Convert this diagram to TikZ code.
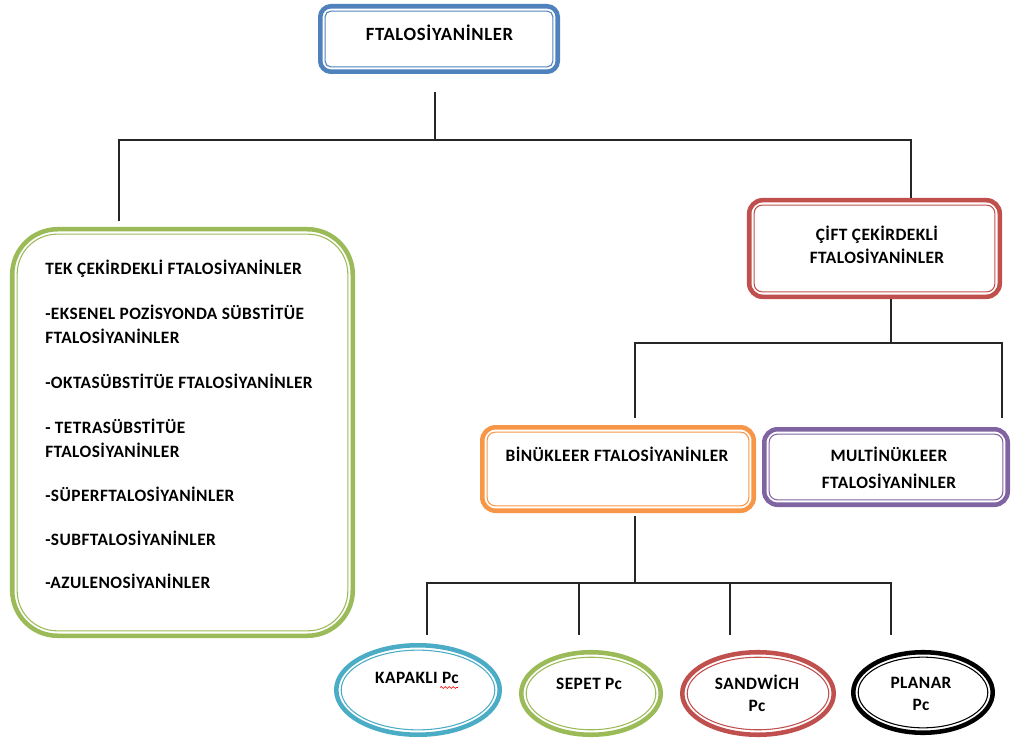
\documentclass[tikz,border=0pt]{standalone}
\usepackage{fontspec}
\setmainfont{Carlito}
\newfontfamily\boxfont[LetterSpace=2.5]{Carlito}
\newfontfamily\titlefont[LetterSpace=3.5]{Carlito}
\usetikzlibrary{shapes.geometric,calc,decorations.pathmorphing}
\definecolor{blueC}{HTML}{4F81BD}
\definecolor{greenC}{HTML}{9BBB59}
\definecolor{redC}{HTML}{C0504D}
\definecolor{orangeC}{HTML}{F79646}
\definecolor{purpleC}{HTML}{8064A2}
\definecolor{aquaC}{HTML}{4BACC6}
\begin{document}
\begin{tikzpicture}[x=0.75pt,y=-0.75pt,
  box/.style={draw=#1, line width=3.4pt, inner sep=0pt},
  oval/.style={ellipse, draw=#1, line width=3.4pt, inner sep=0pt},
  inl/.style={draw=#1, line width=0.8pt},
  lbl/.style={font=\boxfont\bfseries\fontsize{13}{15}\selectfont, inner sep=0pt, anchor=base},
  ttl/.style={font=\titlefont\bfseries\fontsize{14}{16}\selectfont, inner sep=0pt, anchor=base},
  item/.style={font=\boxfont\bfseries\fontsize{13}{15}\selectfont, inner sep=0pt, anchor=base west},
  conn/.style={line width=1pt, draw=black!85}]
\useasboundingbox (0,0) rectangle (1011,738);

% ---------- boxes ----------
\node[box=blueC, rounded corners=8pt, minimum width=178.1pt, minimum height=49.1pt] (top) at (439,39) {};
\draw[inl=blueC, rounded corners=4pt] ($(top.north west)+(5.4pt,-5.4pt)$) rectangle ($(top.south east)+(-5.4pt,5.4pt)$);
\node[ttl] (toptxt) at (439.5,41) {FTALOSİYANİNLER};

\node[box=greenC, rounded corners=34pt, minimum width=255.4pt, minimum height=304.9pt] (green) at (182.5,432.5) {};
\draw[inl=greenC, rounded corners=30pt] ($(green.north west)+(5.4pt,-5.4pt)$) rectangle ($(green.south east)+(-5.4pt,5.4pt)$);
\node[item] (g1) at (45,275) {TEK ÇEKİRDEKLİ FTALOSİYANİNLER};
\node[item] (g2) at (45,320) {-EKSENEL POZİSYONDA SÜBSTİTÜE};
\node[item] (g3) at (45,344) {FTALOSİYANİNLER};
\node[item] (g4) at (45,388) {-OKTASÜBSTİTÜE FTALOSİYANİNLER};
\node[item] (g5) at (45,433) {- TETRASÜBSTİTÜE};
\node[item] (g6) at (45,457) {FTALOSİYANİNLER};
\node[item] (g7) at (45,501) {-SÜPERFTALOSİYANİNLER};
\node[item] (g8) at (45,545) {-SUBFTALOSİYANİNLER};
\node[item] (g9) at (45,588) {-AZULENOSİYANİNLER};

\node[box=redC, rounded corners=10pt, minimum width=187.9pt, minimum height=72.4pt] (red) at (874.5,248.5) {};
\draw[inl=redC, rounded corners=6pt] ($(red.north west)+(5.4pt,-5.4pt)$) rectangle ($(red.south east)+(-5.4pt,5.4pt)$);
\node[lbl] (redt1) at (877,241) {ÇİFT ÇEKİRDEKLİ};
\node[lbl] (redt2) at (877,264) {FTALOSİYANİNLER};

\node[box=orangeC, rounded corners=10pt, minimum width=203.6pt, minimum height=62.6pt] (orange) at (618,469) {};
\draw[inl=orangeC, rounded corners=6pt] ($(orange.north west)+(5.4pt,-5.4pt)$) rectangle ($(orange.south east)+(-5.4pt,5.4pt)$);
\node[lbl] (oranget) at (617,461) {BİNÜKLEER FTALOSİYANİNLER};

\node[box=purpleC, rounded corners=10pt, minimum width=182.6pt, minimum height=56.6pt] (purple) at (886,467) {};
\draw[inl=purpleC, rounded corners=6pt] ($(purple.north west)+(5.4pt,-5.4pt)$) rectangle ($(purple.south east)+(-5.4pt,5.4pt)$);
\node[lbl] (purplet1) at (889,461) {MULTİNÜKLEER};
\node[lbl] (purplet2) at (889,488) {FTALOSİYANİNLER};

% ---------- ellipses ----------
\node[oval=aquaC, minimum width=122.6pt, minimum height=67.1pt] (kap) at (418,690) {};
\draw[inl=aquaC] (kap.center) ellipse [x radius=57.6pt, y radius=29.9pt];
\node[lbl] (kapt) at (417,683) {KAPAKLI Pc};
\draw[red, line width=0.5pt, decorate, decoration={snake, amplitude=0.7pt, segment length=3pt}] (440,687.5) -- (458,687.5);

\node[oval=greenC, minimum width=104.6pt, minimum height=61.9pt] (sep) at (591,693.5) {};
\draw[inl=greenC] (sep.center) ellipse [x radius=48.6pt, y radius=27.2pt];
\node[lbl] (sept) at (589,689) {SEPET Pc};

\node[oval=redC, minimum width=113.6pt, minimum height=61.9pt] (san) at (758,693.5) {};
\draw[inl=redC] (san.center) ellipse [x radius=53.1pt, y radius=27.2pt];
\node[lbl] (sant1) at (757,689) {SANDWİCH};
\node[lbl] (sant2) at (757,711) {Pc};

\node[oval=black, minimum width=104.6pt, minimum height=60.4pt] (pla) at (923,692.5) {};
\draw[inl=black] (pla.center) ellipse [x radius=48.6pt, y radius=26.5pt];
\node[lbl] (plat1) at (921,688) {PLANAR};
\node[lbl] (plat2) at (921,710) {Pc};

% ---------- connectors ----------
\coordinate (t1) at (435,92);
\coordinate (b0) at (435,140);
\coordinate (b1) at (119,140);
\coordinate (b2) at (911,140);
\coordinate (gl) at (119,221);
\draw[conn] (t1) -- (b0);
\draw[conn] (gl) -- (b1) -- (b2) -- (red.north -| b2);

\coordinate (c0) at (891,343);
\coordinate (c1) at (635,343);
\coordinate (c2) at (1002,343);
\coordinate (oc) at (635,418);
\coordinate (pc) at (1002,418);
\draw[conn] (red.south -| c0) -- (c0);
\draw[conn] (oc) -- (c1) -- (c2) -- (pc);

\coordinate (o1) at (635,516);
\coordinate (d0) at (635,583);
\coordinate (d1) at (427,583);
\coordinate (d4) at (891,583);
\coordinate (d2) at (579,583);
\coordinate (d3) at (730,583);
\coordinate (e1) at (427,635);
\coordinate (e2) at (579,635);
\coordinate (e3) at (730,635);
\coordinate (e4) at (891,635);
\draw[conn] (o1) -- (d0);
\draw[conn] (e1) -- (d1) -- (d4) -- (e4);
\draw[conn] (d2) -- (e2);
\draw[conn] (d3) -- (e3);
\end{tikzpicture}
\end{document}
